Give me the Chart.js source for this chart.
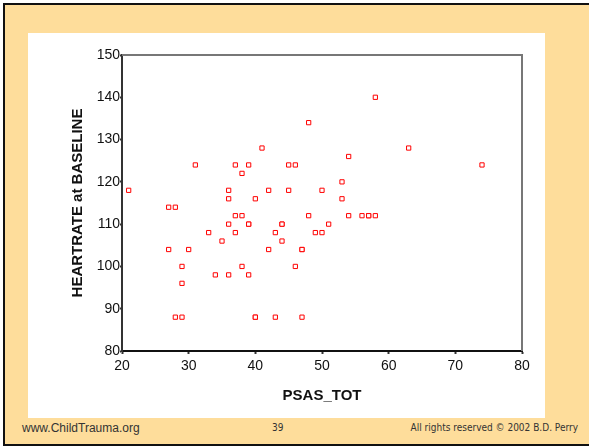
<!DOCTYPE html>
<html>
<head>
<meta charset="utf-8">
<title>Heart rate vs PSAS_TOT</title>
<script src="https://cdn.jsdelivr.net/npm/chart.js@4"></script>
<style>
    html, body { margin: 0; padding: 0; background: #fff; }
    body { width: 589px; height: 447px; position: relative; overflow: hidden; }
    .slide {
        position: absolute; left: 3px; top: 3px; width: 600px; height: 443px;
        box-sizing: border-box; background: #fedd9b;
        border-left: 2px solid #111; border-top: 2px solid #111; border-bottom: 2px solid #111;
    }
    .panel { position: absolute; left: 28px; top: 33px; width: 517px; height: 385px; background: #fff; }
    .foot { position: absolute; top: 421px; color: #333; }
    #site { left: 22px; font: 12px "Liberation Sans", Arial, sans-serif; }
    #page { left: 272px; font: 10px "DejaVu Sans Condensed", "DejaVu Sans", sans-serif; top: 422px; }
    #copy { right: 11px; font: 10px "DejaVu Sans Condensed", "DejaVu Sans", sans-serif; top: 422px; }
    #chart { position: absolute; left: 0; top: 0; }
</style>
</head>
<body>
<div class="slide"></div>
<div class="panel"></div>
<div class="foot" id="site">www.ChildTrauma.org</div>
<div class="foot" id="page">39</div>
<div class="foot" id="copy">All rights reserved © 2002 B.D. Perry</div>
<canvas id="chart" width="589" height="447"></canvas>
<script>
// PSAS_TOT score and heart rate at baseline, one entry per subject
const psasTot = [21, 27, 28, 31, 36, 36, 37, 38, 39, 40, 41, 42, 45, 46, 45, 48, 58, 63, 54, 74,
    53, 50, 53, 37, 38, 36, 39, 39, 44, 44, 48, 33, 37, 43, 49, 35, 44, 27, 30, 42,
    47, 47, 29, 38, 46, 34, 36, 39, 29, 28, 29, 40, 40, 43, 47, 54, 56, 57, 57, 58,
    51, 50];
const heartRate = [118, 114, 114, 124, 118, 116, 124, 122, 124, 116, 128, 118, 124, 124, 118, 134, 140, 128, 126, 124,
    120, 118, 116, 112, 112, 110, 110, 110, 110, 110, 112, 108, 108, 108, 108, 106, 106, 104, 104, 104,
    104, 104, 100, 100, 100, 98, 98, 98, 96, 88, 88, 88, 88, 88, 88, 112, 112, 112, 112, 112,
    110, 108];
const xTicks = [20, 30, 40, 50, 60, 70, 80];
const yTicks = [80, 90, 100, 110, 120, 130, 140, 150];

const points = psasTot.map((x, i) => ({ x: x, y: heartRate[i] }));

// grey frame on top and right of the plot, like the SPSS chart
const frame = {
    id: 'frame',
    afterDraw(chart) {
        const a = chart.chartArea;
        const ctx = chart.ctx;
        ctx.save();
        ctx.strokeStyle = '#777';
        ctx.lineWidth = 2;
        ctx.beginPath();
        ctx.moveTo(a.left, a.top);
        ctx.lineTo(a.right, a.top);
        ctx.lineTo(a.right, a.bottom);
        ctx.stroke();
        ctx.restore();
    }
};

new Chart(document.getElementById('chart').getContext('2d'), {
    type: 'scatter',
    data: {
        datasets: [{
            data: points,
            pointStyle: 'rect',
            pointRadius: 3,
            pointHoverRadius: 3,
            borderColor: '#ff0000',
            backgroundColor: '#ffffff',
            borderWidth: 1
        }]
    },
    options: {
        responsive: false,
        animation: false,
        devicePixelRatio: 1,
        layout: { padding: { left: 64, right: 67, top: 55, bottom: 36 } },
        plugins: { legend: { display: false }, tooltip: { enabled: false } },
        scales: {
            x: {
                type: 'linear',
                min: xTicks[0],
                max: xTicks[xTicks.length - 1],
                afterBuildTicks: s => { s.ticks = xTicks.map(v => ({ value: v })); },
                afterFit: s => { s.height = 60; },
                grid: { drawOnChartArea: false, tickLength: 3, color: '#333', tickWidth: 2 },
                border: { color: '#111', width: 2 },
                ticks: { color: '#111', padding: 4, font: { family: 'Liberation Sans', size: 14 } },
                title: {
                    display: true, text: 'PSAS_TOT', color: '#111',
                    padding: { top: 4, bottom: 6 },
                    font: { family: 'Liberation Sans', size: 15, weight: 'bold' }
                }
            },
            y: {
                type: 'linear',
                min: yTicks[0],
                max: yTicks[yTicks.length - 1],
                afterBuildTicks: s => { s.ticks = yTicks.map(v => ({ value: v })); },
                afterFit: s => { s.width = 58; },
                grid: { drawOnChartArea: false, tickLength: 2, color: '#333', tickWidth: 2 },
                border: { color: '#333', width: 2 },
                ticks: { color: '#111', padding: 0, font: { family: 'Liberation Sans', size: 14 } },
                title: {
                    display: true, text: 'HEARTRATE at BASELINE', color: '#111',
                    padding: { top: 5, bottom: 4 },
                    font: { family: 'Liberation Sans', size: 15, weight: 'bold' }
                }
            }
        }
    },
    plugins: [frame]
});
</script>
</body>
</html>
